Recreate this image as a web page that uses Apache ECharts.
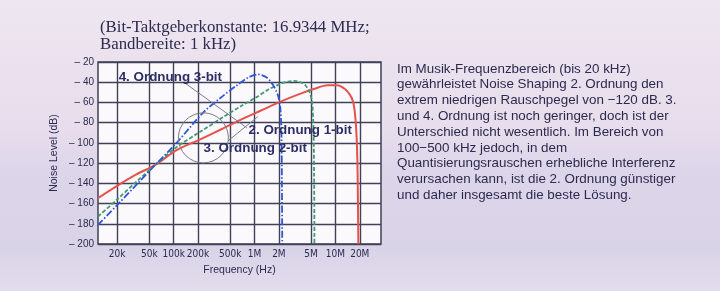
<!DOCTYPE html>
<html>
<head>
<meta charset="utf-8">
<script src="https://cdn.jsdelivr.net/npm/echarts@6/dist/echarts.min.js"></script>
<style>
html, body { margin: 0; padding: 0; }
body {
  width: 720px; height: 291px; overflow: hidden;
  background: linear-gradient(180deg, #eee6f0 0%, #e7ddec 45%, #ddd6ea 58%, #d9d3e8 85%, #e2ddec 100%);
}
#chart { width: 720px; height: 291px; }
</style>
</head>
<body>
<div id="chart"></div>
<script>
// x-Achse: Frequenz (Hz), logarithmisch
const tickFreqs = [2e4, 5e4, 1e5, 2e5, 5e5, 1e6, 2e6, 5e6, 1e7, 2e7]
const tickLabels = ['20k', '50k', '100k', '200k', '500k', '1M', '2M', '5M', '10M', '20M']

// 2. Ordnung 1-bit (rot)
const freq1bit = [11600, 20e3, 35e3, 59.2e3, 110e3, 213e3, 400e3, 700e3, 1.2e6, 2.06e6, 3.5e6, 5.5e6, 8e6, 10.5e6, 13e6, 15e6, 16.5e6, 17.5e6, 18.3e6, 18.8e6, 19.2e6]
const level1bit = [-154.6, -142.5, -131, -121.8, -107, -96.5, -86, -76.5, -68, -59.4, -52, -46.5, -43, -43, -46.5, -52, -59, -72, -95, -130, -200]

// 3. Ordnung 2-bit (grün, gestrichelt)
const freq2bit = [11600, 20e3, 35e3, 59.2e3, 110e3, 213e3, 400e3, 700e3, 1.07e6, 1.5e6, 2.06e6, 2.6e6, 3.1e6, 3.7e6, 4.3e6, 4.8e6, 5.15e6, 5.35e6, 5.45e6, 5.5e6]
const level2bit = [-172.8, -156, -138, -121.8, -103.8, -89, -75, -63, -54.5, -47, -41.8, -39.3, -38.7, -40, -43.5, -50, -60, -85, -130, -200]

// 4. Ordnung 3-bit (blau, strichpunktiert)
const freq3bit = [11600, 20e3, 35e3, 59.2e3, 110e3, 232e3, 400e3, 607e3, 850e3, 1.1e6, 1.4e6, 1.7e6, 1.95e6, 2.08e6, 2.15e6, 2.18e6, 2.2e6]
const level3bit = [-181, -161.5, -141, -121.8, -99.5, -70, -54, -43, -35, -32.3, -35, -43, -53, -65, -90, -140, -200]

// Beschriftungen im Diagramm (Frequenz, Pegel)
const notes = [
  { text: '4. Ordnung 3-bit', f: 91e3, db: -35 },
  { text: '2. Ordnung 1-bit', f: 3.67e6, db: -87.5 },
  { text: '3. Ordnung 2-bit', f: 1.02e6, db: -105 }
]
const circle = { f: 233e3, db: -95, r: 25 }
const leaders = [
  [[139e3, -41], [800e3, -85]],
  [[470e3, -98], [1.1e6, -74]]
]

const paragraph = [
  'Im Musik-Frequenzbereich (bis 20 kHz)',
  'gewährleistet Noise Shaping 2. Ordnung den',
  'extrem niedrigen Rauschpegel von \u2212120 dB. 3.',
  'und 4. Ordnung ist noch geringer, doch ist der',
  'Unterschied nicht wesentlich. Im Bereich von',
  '100\u2212500 kHz jedoch, in dem',
  'Quantisierungsrauschen erhebliche Interferenz',
  'verursachen kann, ist die 2. Ordnung günstiger',
  'und daher insgesamt die beste Lösung.'
]

const lg = Math.log10
const toPoints = (fs, ls) => fs.map((f, i) => [lg(f), ls[i]])
const tickPos = tickFreqs.map(lg)
const ink = '#2c2a4e'
const gridInk = '#404056'

const myChart = echarts.init(document.getElementById('chart'))

const option = {
  animation: false,
  title: {
    text: '(Bit-Taktgeberkonstante: 16.9344 MHz;\nBandbereite: 1 kHz)',
    left: 95,
    top: 14,
    textStyle: {
      fontFamily: 'Liberation Serif',
      fontSize: 16.8,
      fontWeight: 'normal',
      lineHeight: 17,
      color: ink
    }
  },
  grid: {
    left: 98,
    right: 339,
    top: 62,
    bottom: 47,
    show: true,
    backgroundColor: '#fbf9fc',
    borderColor: gridInk,
    borderWidth: 1.5
  },
  xAxis: {
    type: 'value',
    min: lg(11600),
    max: lg(36.6e6),
    name: 'Frequency (Hz)',
    nameLocation: 'middle',
    nameGap: 21,
    nameTextStyle: { fontFamily: 'Liberation Sans', fontSize: 10.5, color: ink },
    axisLine: { show: false },
    axisTick: { show: false, customValues: tickPos },
    axisLabel: {
      customValues: tickPos,
      margin: 5,
      fontFamily: 'Liberation Sans Narrow, DejaVu Sans Condensed, Liberation Sans',
      fontSize: 10,
      color: ink,
      formatter: function (v) {
        let best = 0
        tickPos.forEach((p, i) => { if (Math.abs(p - v) < Math.abs(tickPos[best] - v)) best = i })
        return tickLabels[best]
      }
    },
    splitLine: { show: true, lineStyle: { color: gridInk, width: 1.4 } }
  },
  yAxis: {
    type: 'value',
    min: -200,
    max: -20,
    interval: 20,
    name: 'Noise Level (dB)',
    nameLocation: 'middle',
    nameGap: 38,
    nameTextStyle: { fontFamily: 'Liberation Sans', fontSize: 10.5, color: ink },
    axisLine: { show: false },
    axisTick: { show: false },
    axisLabel: {
      margin: 4,
      fontFamily: 'Liberation Sans',
      fontSize: 10,
      color: ink,
      formatter: v => '\u2013 ' + Math.abs(v)
    },
    splitLine: { show: true, lineStyle: { color: gridInk, width: 1.4 } }
  },
  series: [
    {
      name: '2. Ordnung 1-bit',
      type: 'line',
      smooth: 0.3,
      symbol: 'none',
      data: toPoints(freq1bit, level1bit),
      lineStyle: { color: '#e8524c', width: 2 }
    },
    {
      name: '3. Ordnung 2-bit',
      type: 'line',
      smooth: 0.3,
      symbol: 'none',
      data: toPoints(freq2bit, level2bit),
      lineStyle: { color: '#3f9a74', width: 1.8, type: [4, 2] }
    },
    {
      name: '4. Ordnung 3-bit',
      type: 'line',
      smooth: 0.3,
      symbol: 'none',
      data: toPoints(freq3bit, level3bit),
      lineStyle: { color: '#2f56d6', width: 1.8, type: [7, 2, 1.5, 2] }
    }
  ]
}

myChart.setOption(option)

// Kreis, Hinweislinien und Beschriftungen über Datenkoordinaten
const px = (f, db) => myChart.convertToPixel({ gridIndex: 0 }, [lg(f), db])
const graphics = []
const c = px(circle.f, circle.db)
graphics.push({
  type: 'circle',
  shape: { cx: c[0], cy: c[1], r: circle.r },
  style: { fill: 'none', stroke: '#7c7c8c', lineWidth: 1 },
  z: 5
})
leaders.forEach(l => {
  const a = px(l[0][0], l[0][1])
  const b = px(l[1][0], l[1][1])
  graphics.push({
    type: 'line',
    shape: { x1: a[0], y1: a[1], x2: b[0], y2: b[1] },
    style: { stroke: '#7c7c8c', lineWidth: 1 },
    z: 5
  })
})
notes.forEach(n => {
  const p = px(n.f, n.db)
  graphics.push({
    type: 'text',
    x: p[0],
    y: p[1],
    style: {
      text: n.text,
      fill: '#2b2f66',
      font: 'bold 13.4px Liberation Sans',
      align: 'center',
      verticalAlign: 'middle'
    },
    z: 10
  })
})
graphics.push({
  type: 'text',
  left: 397,
  top: 61,
  style: {
    text: paragraph.join('\n'),
    fill: ink,
    font: '13.4px Liberation Sans',
    lineHeight: 15.8
  }
})
myChart.setOption({ graphic: graphics })
</script>
</body>
</html>
